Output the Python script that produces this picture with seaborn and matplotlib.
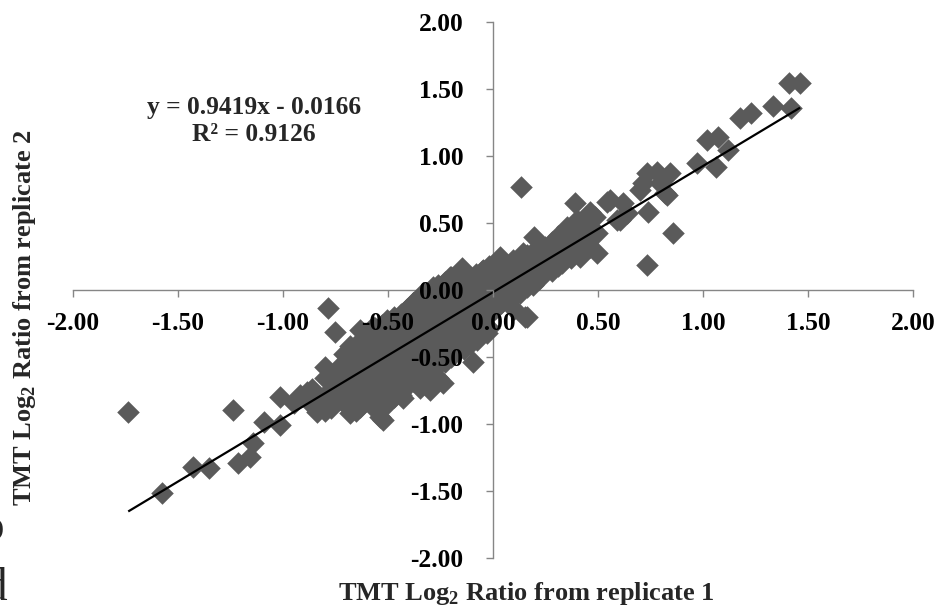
import numpy as np
import pandas as pd
import matplotlib
matplotlib.use("Agg")
import matplotlib.pyplot as plt
import seaborn as sns

# TMT log2 ratios of the same proteins measured in two replicates
rep1 = [
    # sparse lower-left tail
    -1.737, -1.237, -1.578, -1.427, -1.352, -1.213, -1.157, -1.141, -1.090,
    -1.014, -1.014, -0.919, -0.840, -0.840, -0.950, -0.887, -0.800, -0.697,
    -0.538, -0.443, -0.348, -0.238, -0.633, -0.784, -0.752,
    # lower edge of the central cloud
    -0.094, -0.300, -0.427, -0.522, -0.570, -0.681, -0.744, -0.618,
    -0.157, -0.078, -0.030,
    # upper edge of the central cloud
    0.033, -0.149, -0.046, -0.205, -0.286, -0.333, -0.380, -0.430, -0.506,
    -0.571, -0.633,
    # central cloud
    -0.86, -0.86,
    -0.80, -0.80, -0.80,
    -0.74, -0.74, -0.74,
    -0.68, -0.68, -0.68, -0.68, -0.68,
    -0.62, -0.62, -0.62, -0.62, -0.62,
    -0.56, -0.56, -0.56, -0.56, -0.56, -0.56,
    -0.50, -0.50, -0.50, -0.50, -0.50, -0.50,
    -0.44, -0.44, -0.44, -0.44, -0.44, -0.44,
    -0.38, -0.38, -0.38, -0.38, -0.38, -0.38,
    -0.32, -0.32, -0.32, -0.32, -0.32, -0.32,
    -0.26, -0.26, -0.26, -0.26, -0.26, -0.26, -0.26,
    -0.20, -0.20, -0.20, -0.20, -0.20, -0.20,
    -0.14, -0.14, -0.14, -0.14, -0.14, -0.14,
    -0.08, -0.08, -0.08, -0.08, -0.08,
    -0.02, -0.02, -0.02, -0.02, -0.02,
    0.04, 0.04, 0.04,
    0.10, 0.10, 0.10, 0.10,
    0.16, 0.16, 0.16, 0.16,
    0.22, 0.22, 0.22,
    0.28, 0.28, 0.28,
    0.34, 0.34,
    0.40, 0.40, 0.40,
    0.46, 0.46, 0.46,
    # central cloud, in-between positions
    -0.83,
    -0.77, -0.77, -0.77,
    -0.71, -0.71, -0.71, -0.71,
    -0.65, -0.65, -0.65, -0.65, -0.65,
    -0.59, -0.59, -0.59, -0.59, -0.59,
    -0.53, -0.53, -0.53, -0.53, -0.53, -0.53,
    -0.47, -0.47, -0.47, -0.47, -0.47, -0.47,
    -0.41, -0.41, -0.41, -0.41, -0.41, -0.41,
    -0.35, -0.35, -0.35, -0.35, -0.35, -0.35,
    -0.29, -0.29, -0.29, -0.29, -0.29, -0.29,
    -0.23, -0.23, -0.23, -0.23, -0.23, -0.23,
    -0.17, -0.17, -0.17, -0.17, -0.17,
    -0.11, -0.11, -0.11, -0.11, -0.11,
    -0.05, -0.05, -0.05, -0.05, -0.05,
    0.01, 0.01, 0.01,
    0.07, 0.07, 0.07,
    0.13, 0.13, 0.13,
    0.19, 0.19, 0.19,
    0.25, 0.25,
    0.31, 0.31, 0.31,
    0.37, 0.37, 0.37,
    0.43, 0.43,
    # middle and upper-right
    0.132, 0.700, 0.827, 0.541, 0.589, 0.637, 0.390, 0.486, 0.351, 0.414,
    0.494, 0.195, 0.303, 0.367, 0.446, 0.494, 0.327, 0.256, 0.144, 0.033,
    0.097, 0.176, 0.414, 0.152,
    1.411, 1.462, 1.418, 1.332, 1.176, 1.227, 1.017, 1.073, 1.121, 0.973,
    1.062, 0.732, 0.779, 0.843, 0.716, 0.795, 0.819, 0.740, 0.856, 0.735,
    0.557, 0.620, 0.605,
]
rep2 = [
    -0.908, -0.896, -1.513, -1.319, -1.331, -1.294, -1.244, -1.144, -0.983,
    -0.796, -1.007, -0.784, -0.821, -0.908, -0.845, -0.759, -0.572, -0.833,
    -0.945, -0.770, -0.730, -0.696, -0.871, -0.137, -0.311,
    -0.535, -0.746, -0.808, -0.970, -0.871, -0.920, -0.821, -0.821,
    -0.398, -0.373, -0.323,
    0.249, 0.162, 0.149, 0.100, 0.025, -0.020, -0.100, -0.170, -0.224,
    -0.274, -0.300,
    -0.74, -0.86,
    -0.66, -0.78, -0.90,
    -0.58, -0.70, -0.82,
    -0.42, -0.54, -0.66, -0.78, -0.88,
    -0.36, -0.48, -0.60, -0.72, -0.84,
    -0.28, -0.40, -0.52, -0.64, -0.76, -0.88,
    -0.24, -0.36, -0.48, -0.60, -0.72, -0.84,
    -0.18, -0.30, -0.42, -0.54, -0.66, -0.78,
    -0.10, -0.22, -0.34, -0.46, -0.58, -0.68,
    -0.02, -0.14, -0.26, -0.38, -0.50, -0.62,
    0.04, -0.08, -0.20, -0.32, -0.44, -0.56, -0.66,
    0.10, -0.02, -0.14, -0.26, -0.38, -0.50,
    0.14, 0.02, -0.10, -0.22, -0.34, -0.44,
    0.12, 0.00, -0.12, -0.24, -0.32,
    0.18, 0.06, -0.06, -0.18, -0.28,
    0.14, 0.02, -0.10,
    0.20, 0.08, -0.04, -0.14,
    0.26, 0.12, 0.02, -0.20,
    0.30, 0.18, 0.08,
    0.36, 0.24, 0.14,
    0.40, 0.28,
    0.52, 0.38, 0.30,
    0.58, 0.46, 0.32,
    -0.80,
    -0.64, -0.76, -0.88,
    -0.48, -0.60, -0.72, -0.84,
    -0.42, -0.54, -0.66, -0.78, -0.90,
    -0.34, -0.46, -0.58, -0.70, -0.82,
    -0.26, -0.38, -0.50, -0.62, -0.74, -0.86,
    -0.20, -0.32, -0.44, -0.56, -0.68, -0.80,
    -0.14, -0.26, -0.38, -0.50, -0.62, -0.72,
    -0.06, -0.18, -0.30, -0.42, -0.54, -0.66,
    0.00, -0.12, -0.24, -0.36, -0.48, -0.60,
    0.06, -0.06, -0.18, -0.30, -0.42, -0.54,
    0.12, 0.00, -0.12, -0.24, -0.36,
    0.08, -0.04, -0.16, -0.28, -0.40,
    0.14, 0.02, -0.10, -0.22, -0.30,
    0.10, -0.02, -0.14,
    0.16, 0.04, -0.08,
    0.22, 0.10, -0.02,
    0.28, 0.16, 0.04,
    0.32, 0.22,
    0.40, 0.30, 0.18,
    0.46, 0.34, 0.24,
    0.50, 0.40,
    0.771, 0.746, 0.709, 0.659, 0.522, 0.572, 0.647, 0.547, 0.472, 0.448,
    0.423, 0.398, 0.373, 0.323, 0.348, 0.274, 0.199, 0.299, 0.274, 0.211,
    0.224, 0.199, 0.249, -0.200,
    1.542, 1.542, 1.356, 1.373, 1.281, 1.318, 1.119, 1.144, 1.045, 0.945,
    0.920, 0.871, 0.883, 0.871, 0.796, 0.796, 0.721, 0.584, 0.423, 0.187,
    0.672, 0.647, 0.522,
]

# linear trendline reported on the chart
slope = 0.9419
intercept = -0.0166
r_squared = 0.9126

axis_ticks = [-2.0, -1.5, -1.0, -0.5, 0.0, 0.5, 1.0, 1.5, 2.0]
x_title = "TMT Log$_\\mathregular{2}$ Ratio from replicate 1"
y_title = "TMT Log$_\\mathregular{2}$ Ratio from replicate 2"

df = pd.DataFrame({"rep1": rep1, "rep2": rep2})

sns.set_style("white")
plt.rcParams["font.family"] = ["Liberation Serif", "DejaVu Serif"]
plt.rcParams["font.weight"] = "bold"
plt.rcParams["mathtext.fontset"] = "custom"
plt.rcParams["mathtext.rm"] = "Liberation Serif:bold"

W, H = 952, 614
fig = plt.figure(figsize=(W / 100, H / 100), dpi=100)
ax = fig.add_axes([73 / W, (H - 558) / H, 840 / W, 536 / H])

point_color = "#5a5a5a"
axis_color = "#868686"

sns.scatterplot(data=df, x="rep1", y="rep2", marker="D", s=132,
                color=point_color, linewidth=0, ax=ax, zorder=1)

xs = np.array([min(rep1), max(rep1)])
ax.plot(xs, slope * xs + intercept, color="black", lw=1.6, zorder=2,
        solid_capstyle="butt")

ax.set_xlim(-2, 2)
ax.set_ylim(-2, 2)
ax.set_xticks(axis_ticks)
ax.set_yticks(axis_ticks)
ax.set_xticklabels([f"{t:.2f}" for t in axis_ticks])
ax.set_yticklabels([f"{t:.2f}" for t in axis_ticks])
ax.set_xlabel("")
ax.set_ylabel("")

for side in ("top", "right"):
    ax.spines[side].set_visible(False)
for side in ("left", "bottom"):
    ax.spines[side].set_position(("data", 0))
    ax.spines[side].set_color(axis_color)
    ax.spines[side].set_linewidth(1.0)
    ax.spines[side].set_zorder(0.5)

ax.tick_params(axis="both", direction="out", length=5, width=1.0,
               color=axis_color, labelsize=18.4, labelcolor="black")
ax.tick_params(axis="x", pad=10.5, bottom=True)
ax.tick_params(axis="y", pad=16.5, left=True)
for lab in ax.get_xticklabels() + ax.get_yticklabels():
    lab.set_fontweight("bold")
ax.xaxis.set_zorder(3)
ax.yaxis.set_zorder(3)
ax.patch.set_alpha(0)

# trendline equation
fig.text(254 / W, 1 - 114 / H, f"y = {slope:.4f}x - {abs(intercept):.4f}",
         ha="center", va="baseline", fontsize=18.4, fontweight="bold")
fig.text(254 / W, 1 - 141 / H, f"R\u00b2 = {r_squared:.4f}",
         ha="center", va="baseline", fontsize=18.4, fontweight="bold")

# axis titles
fig.text(526 / W, 1 - 600 / H, x_title, ha="center", va="baseline",
         fontsize=19, fontweight="bold")
fig.text(25 / W, 1 - 318 / H, y_title, ha="center", va="center",
         rotation=90, fontsize=19, fontweight="bold")

# letters of neighbouring text at the left edge
fig.text(-20 / W, 1 - 540 / H, "o", ha="left", va="baseline",
         fontsize=34, fontweight="normal")
fig.text(-17 / W, 1 - 600 / H, "d", ha="left", va="baseline",
         fontsize=34, fontweight="normal")

fig.savefig("out.png", dpi=100)
